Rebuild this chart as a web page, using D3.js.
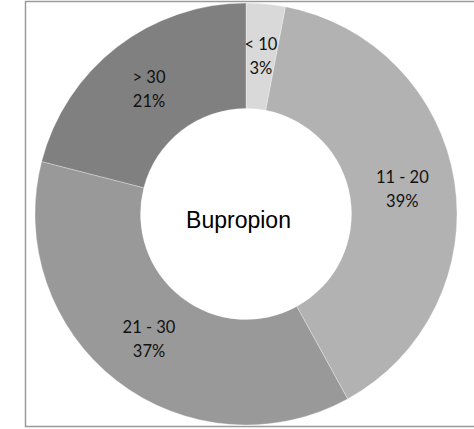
<!DOCTYPE html>
<html>
<head>
<meta charset="utf-8">
<script src="https://cdn.jsdelivr.net/npm/d3@7"></script>
<style>
  html, body { margin: 0; padding: 0; background: #fff; }
  svg { display: block; }
</style>
</head>
<body>
<svg id="chart" width="474" height="429"></svg>
<script>
// Age groups and their share of Bupropion cases (percent)
const categories = ["< 10", "11 - 20", "21 - 30", "> 30"];
const values = [3, 39, 37, 21];
const colors = ["#d9d9d9", "#b2b2b2", "#999999", "#808080"];
const centerTitle = "Bupropion";

const svg = d3.select("#chart");
const cx = 246, cy = 214;
const outerR = 211, innerR = 105.5;

// chart frame
svg.append("rect")
  .attr("x", 25.5).attr("y", 1.5)
  .attr("width", 470).attr("height", 425)
  .attr("fill", "none")
  .attr("stroke", "#9a9a9a")
  .attr("stroke-width", 1.5);

const data = categories.map((c, i) => ({ cat: c, value: values[i], color: colors[i] }));

const pie = d3.pie().value(d => d.value).sort(null);
const arc = d3.arc().innerRadius(innerR).outerRadius(outerR);
const arcs = pie(data);

const g = svg.append("g").attr("transform", `translate(${cx},${cy})`);

g.selectAll("path.slice")
  .data(arcs)
  .join("path")
  .attr("class", "slice")
  .attr("d", arc)
  .attr("fill", d => d.data.color)
  .attr("stroke", "#ffffff")
  .attr("stroke-opacity", 0.6)
  .attr("stroke-width", 0.5);

// slice labels: category on the first line, percentage on the second
const labels = g.selectAll("text.lbl")
  .data(arcs)
  .join("text")
  .attr("class", "lbl")
  .attr("transform", d => `translate(${arc.centroid(d)})`)
  .attr("text-anchor", "middle")
  .attr("font-family", "Lato, 'Open Sans', sans-serif")
  .attr("font-size", 16.5)
  .attr("fill", "#111");

labels.append("tspan")
  .attr("x", 0).attr("y", -6)
  .text(d => d.data.cat);
labels.append("tspan")
  .attr("x", 0).attr("y", 18)
  .text(d => d.data.value + "%");

// title in the donut hole
g.append("text")
  .attr("x", -7.5).attr("y", 14)
  .attr("text-anchor", "middle")
  .attr("font-family", "'Liberation Sans', Arial, sans-serif")
  .attr("font-size", 23)
  .attr("fill", "#000")
  .text(centerTitle);
</script>
</body>
</html>
